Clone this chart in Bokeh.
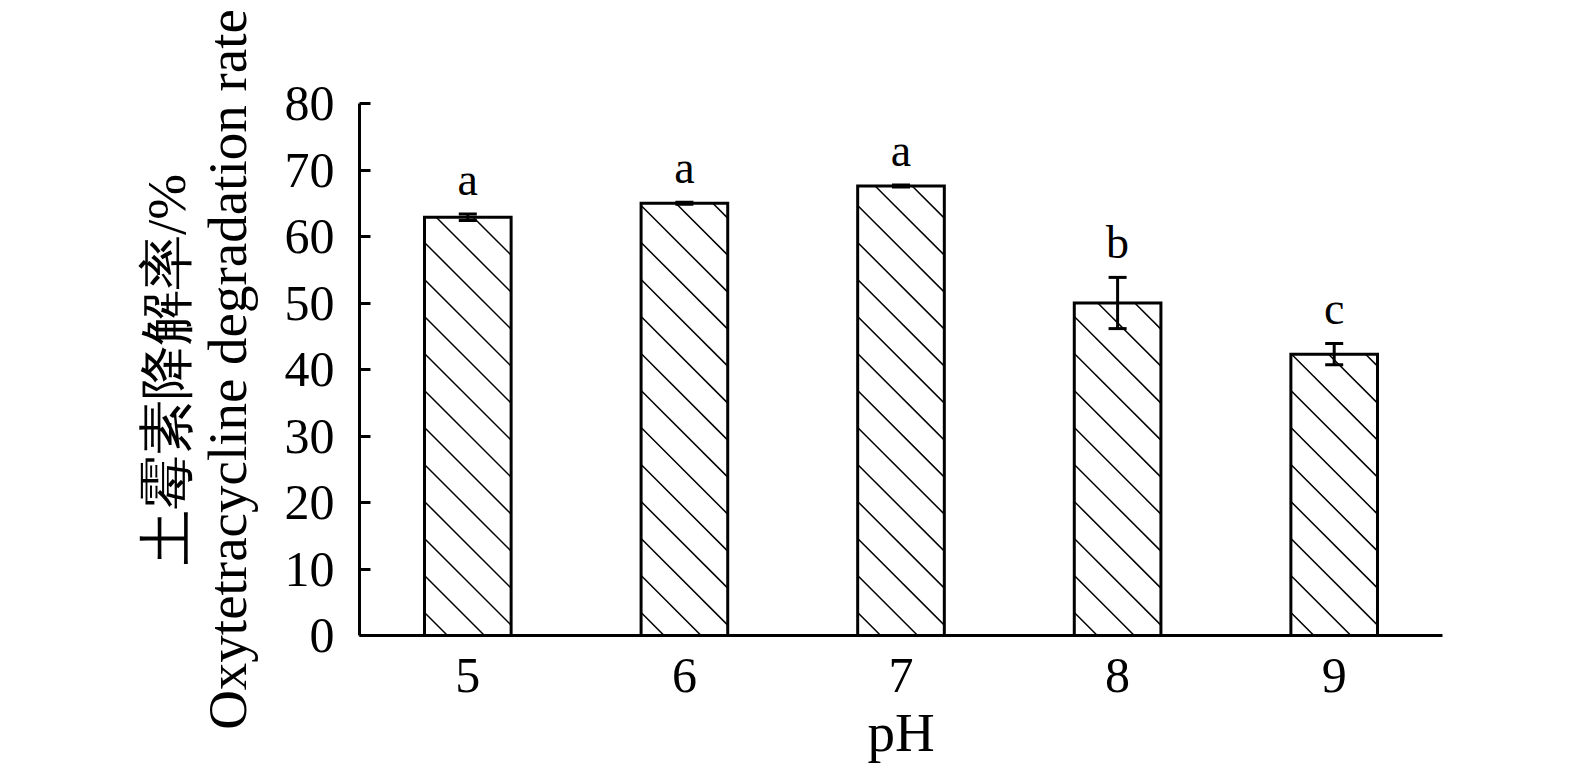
import math
from bokeh.plotting import figure
from bokeh.models import ColumnDataSource, Range1d, FixedTicker, Whisker, TeeHead, LabelSet
from bokeh.core.properties import value
from bokeh.embed import file_html
from bokeh.resources import INLINE

ph = [5, 6, 7, 8, 9]
rate = [62.9, 65.0, 67.6, 50.0, 42.3]
err = [0.5, 0.15, 0.15, 3.85, 1.6]
letters = ["a", "a", "a", "b", "c"]
y_ticks = [0, 10, 20, 30, 40, 50, 60, 70, 80]
x_title = "pH"
y_title = "土霉素降解率/%\nOxytetracycline degradation rate"

FONT = "Liberation Serif"

# layout / styling
W, H = 1559, 770
LEFT, TOP, FRAME_W, FRAME_H = 359, 103, 1083, 532
X0, X1, Y0, Y1 = 4.5, 9.5, 0, 80
BAR_W = 0.4
HATCH_SPACING = 37.0   # px, vertical spacing of 45-degree hatch lines
HATCH_PHASE = 23.0     # px above bar bottom on left edge
LAB_OFFSET = 2.9

src = ColumnDataSource(dict(
    x=ph, top=rate,
    upper=[r + e for r, e in zip(rate, err)],
    lower=[r - e for r, e in zip(rate, err)],
    lab=letters,
    laby=[r + e + LAB_OFFSET for r, e in zip(rate, err)],
))

p = figure(width=W, height=H, output_backend="svg", toolbar_location=None,
           x_range=Range1d(X0, X1), y_range=Range1d(Y0, Y1),
           min_border_left=LEFT, min_border_right=W - LEFT - FRAME_W,
           min_border_top=TOP, min_border_bottom=H - TOP - FRAME_H)
p.outline_line_color = None
p.xgrid.visible = False
p.ygrid.visible = False
p.background_fill_color = "white"

# bars (white fill)
p.vbar(x="x", top="top", width=BAR_W, source=src, fill_color="white", line_color=None)

# 45-degree hatch lines computed from each bar's geometry
kx = FRAME_W / (X1 - X0)
ky = FRAME_H / (Y1 - Y0)
hx0, hy0, hx1, hy1 = [], [], [], []
for xc, t in zip(ph, rate):
    L = (xc - BAR_W / 2 - X0) * kx
    R = (xc + BAR_W / 2 - X0) * kx
    T = (t - Y0) * ky
    bw = R - L
    c = HATCH_PHASE
    while c < bw + T:
        xs = max(0.0, c - T)
        xe = min(bw, c)
        if xe > xs:
            hx0.append(X0 + (L + xs) / kx)
            hy0.append(Y0 + (c - xs) / ky)
            hx1.append(X0 + (L + xe) / kx)
            hy1.append(Y0 + (c - xe) / ky)
        c += HATCH_SPACING
p.segment(x0=hx0, y0=hy0, x1=hx1, y1=hy1, line_color="black", line_width=1.5)

# bar outlines
p.vbar(x="x", top="top", width=BAR_W, source=src, fill_color=None,
       line_color="black", line_width=3, line_join="miter")

w = Whisker(base="x", upper="upper", lower="lower", source=src, line_width=3, line_color="black",
            level="annotation",
            upper_head=TeeHead(size=18, line_width=3, line_color="black"),
            lower_head=TeeHead(size=18, line_width=3, line_color="black"))
p.add_layout(w)

p.add_layout(LabelSet(x="x", y="laby", text="lab", source=src, text_align="center",
                      text_baseline="alphabetic", text_font=value(FONT), text_font_size="46px",
                      text_color="black"))

# axes
p.yaxis.ticker = FixedTicker(ticks=y_ticks)
p.yaxis.major_tick_in = 11
p.yaxis.major_tick_out = 0
p.yaxis.minor_tick_in = 0
p.yaxis.minor_tick_out = 0
p.yaxis.axis_line_width = 3
p.yaxis.major_tick_line_width = 3
p.yaxis.major_label_standoff = 25
p.yaxis.major_label_text_font = FONT
p.yaxis.major_label_text_font_size = "50px"
p.yaxis.major_label_text_color = "black"
p.yaxis.axis_label = y_title
p.yaxis.axis_label_standoff = 24
p.yaxis.axis_label_text_font = FONT
p.yaxis.axis_label_text_font_size = "55px"
p.yaxis.axis_label_text_font_style = "normal"
p.yaxis.axis_label_text_color = "black"
p.yaxis.axis_label_text_line_height = 1.0

p.xaxis.ticker = FixedTicker(ticks=ph)
p.xaxis.major_tick_in = 0
p.xaxis.major_tick_out = 0
p.xaxis.minor_tick_in = 0
p.xaxis.minor_tick_out = 0
p.xaxis.axis_line_width = 3
p.xaxis.major_label_standoff = 23
p.xaxis.major_label_text_font = FONT
p.xaxis.major_label_text_font_size = "50px"
p.xaxis.major_label_text_color = "black"
p.xaxis.axis_label = x_title
p.xaxis.axis_label_standoff = 7
p.xaxis.axis_label_text_font = FONT
p.xaxis.axis_label_text_font_size = "55px"
p.xaxis.axis_label_text_font_style = "normal"
p.xaxis.axis_label_text_color = "black"

open("out.html", "w").write(file_html(p, INLINE))
